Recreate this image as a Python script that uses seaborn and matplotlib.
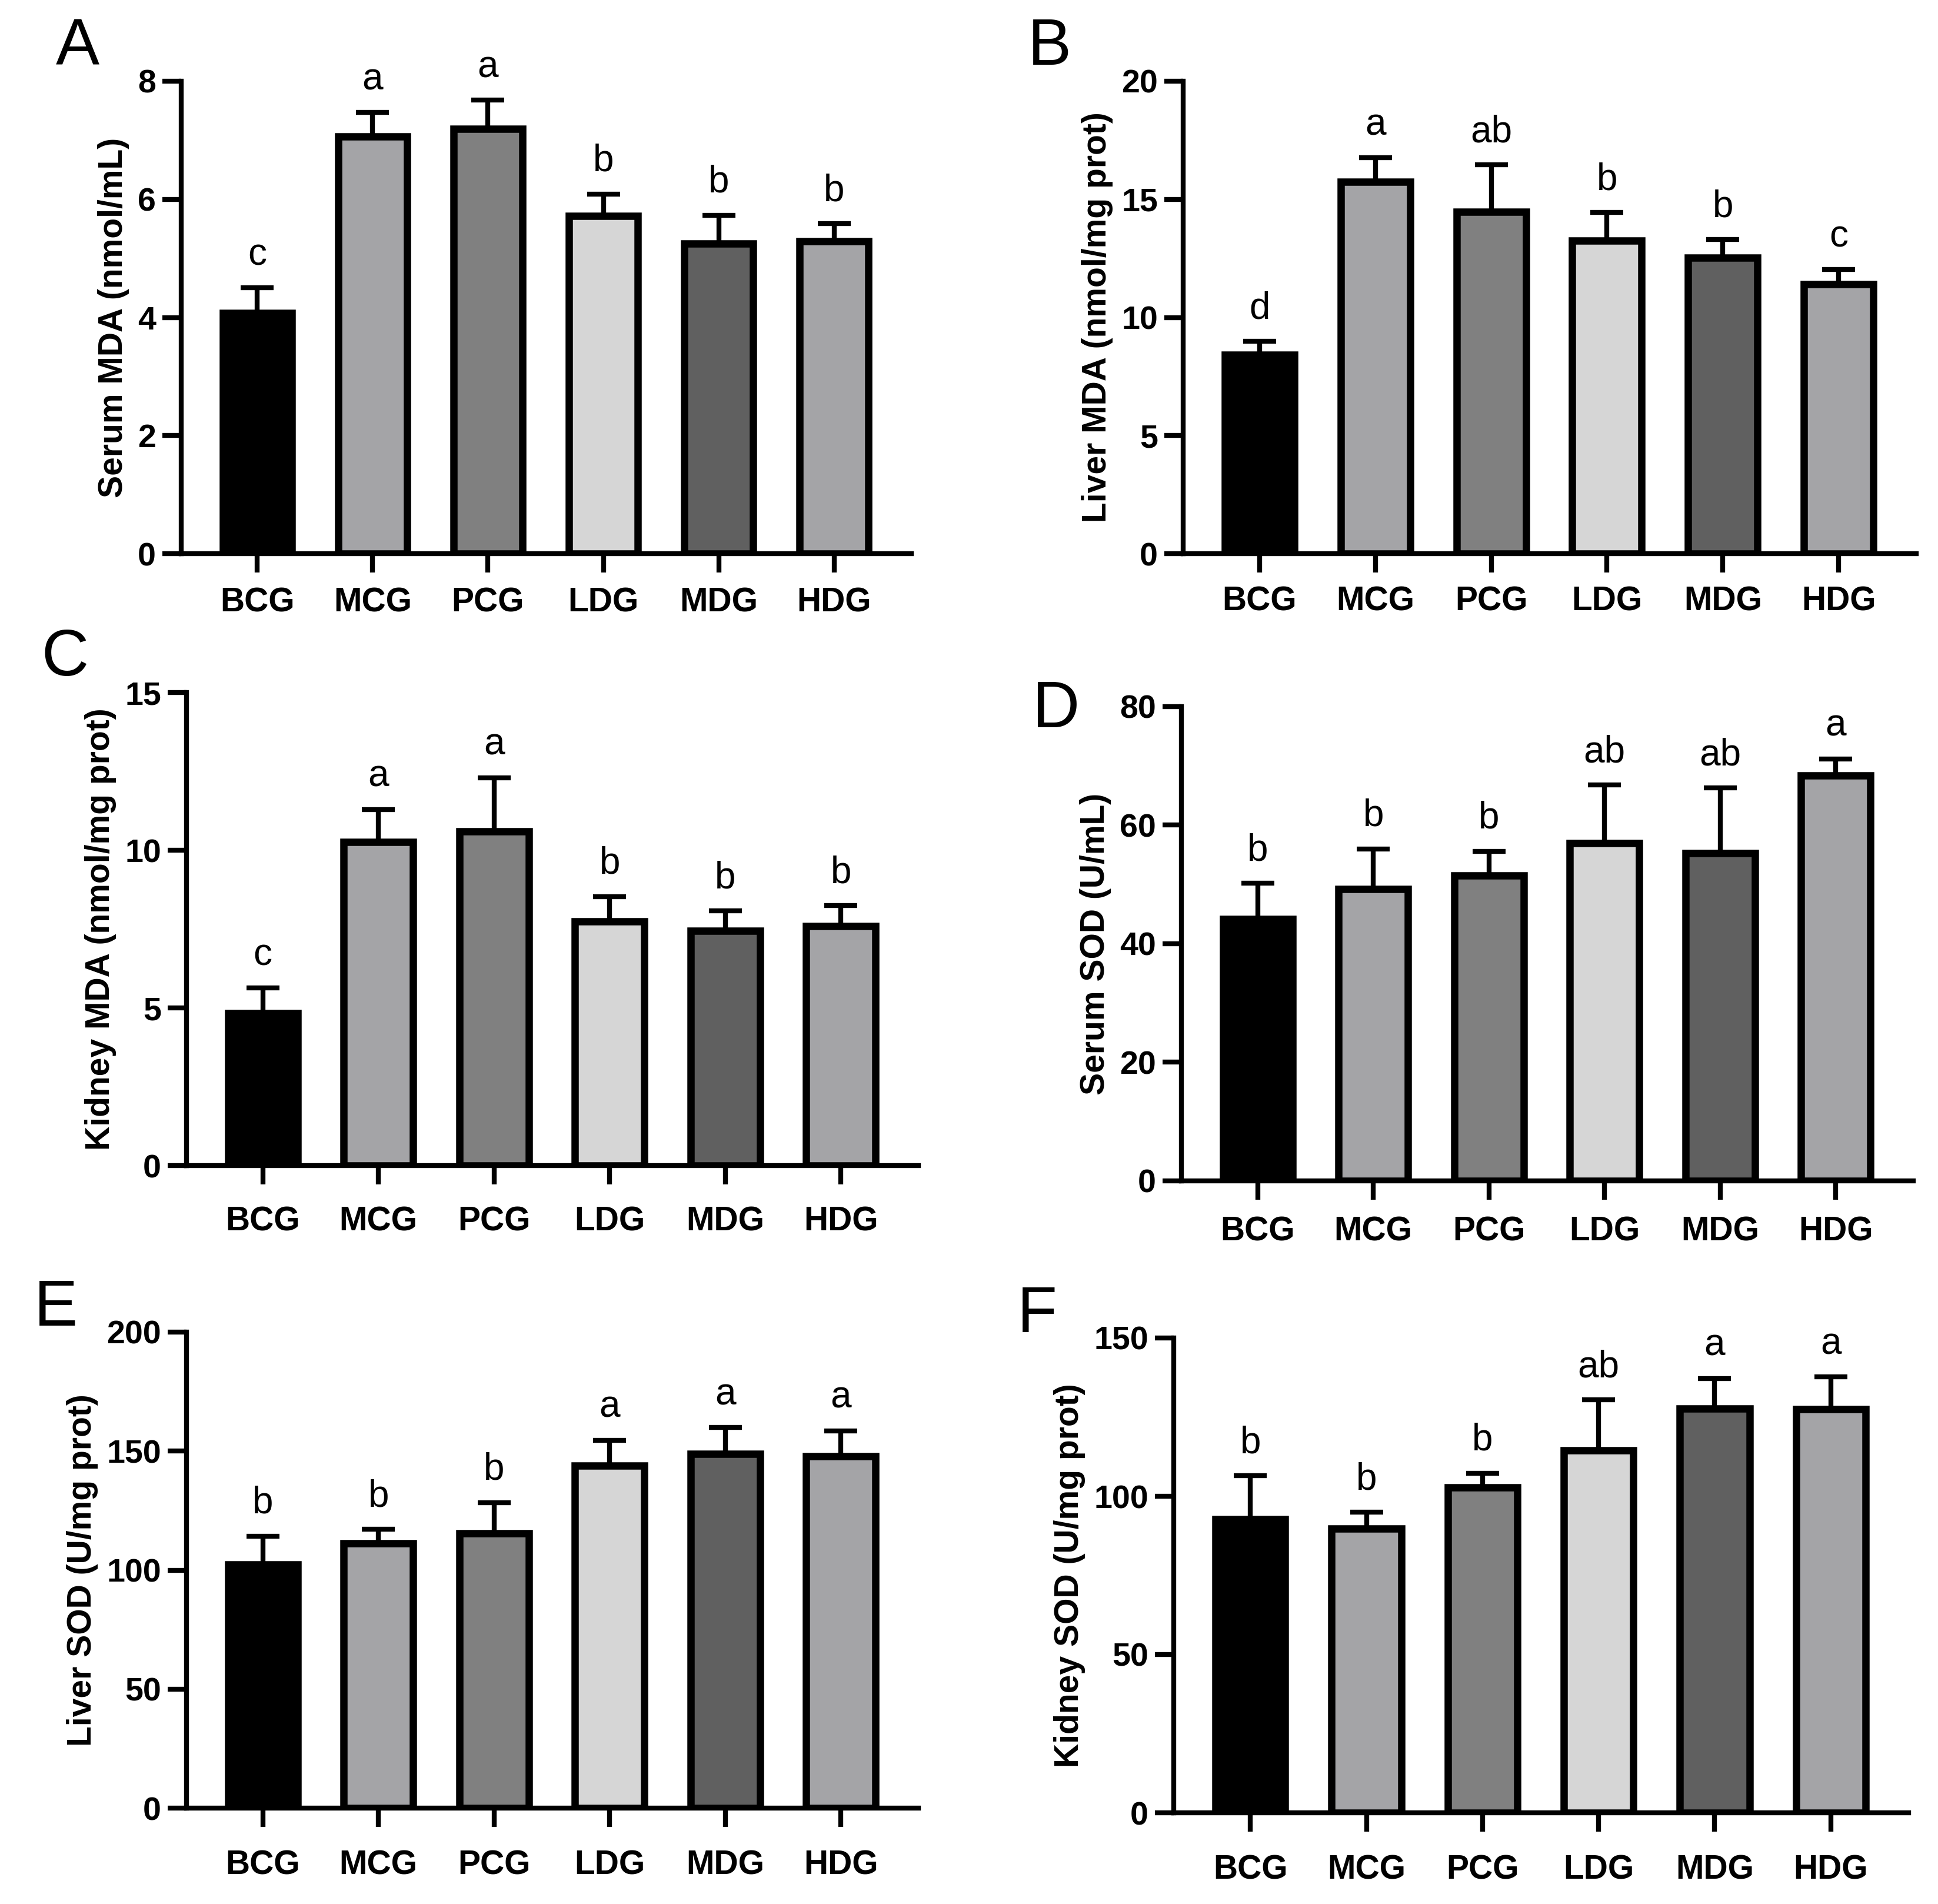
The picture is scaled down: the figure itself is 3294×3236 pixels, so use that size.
import matplotlib
matplotlib.use("Agg")
import matplotlib.pyplot as plt
import seaborn as sns
import numpy as np

groups = ["BCG", "MCG", "PCG", "LDG", "MDG", "HDG"]
bar_colors = ["#000000", "#A3A4A8", "#808080", "#D6D6D6", "#606060", "#A3A4A8"]

serum_mda_mean = [4.07, 7.06, 7.19, 5.72, 5.25, 5.29]
serum_mda_sd = [0.43, 0.41, 0.49, 0.37, 0.48, 0.30]
serum_mda_sig = ["c", "a", "a", "b", "b", "b"]

liver_mda_mean = [8.42, 15.75, 14.47, 13.25, 12.54, 11.40]
liver_mda_sd = [0.56, 1.00, 1.99, 1.19, 0.76, 0.62]
liver_mda_sig = ["d", "a", "ab", "b", "b", "c"]

kidney_mda_mean = [4.84, 10.26, 10.60, 7.74, 7.45, 7.60]
kidney_mda_sd = [0.79, 1.03, 1.70, 0.79, 0.62, 0.64]
kidney_mda_sig = ["c", "a", "a", "b", "b", "b"]

serum_sod_mean = [44.2, 49.2, 51.5, 57.0, 55.3, 68.4]
serum_sod_sd = [6.0, 6.8, 4.1, 9.8, 11.0, 2.8]
serum_sod_sig = ["b", "b", "b", "ab", "ab", "a"]

liver_sod_mean = [102.3, 111.3, 115.4, 144.0, 148.9, 147.8]
liver_sod_sd = [12.0, 5.8, 13.0, 10.6, 11.0, 10.7]
liver_sod_sig = ["b", "b", "b", "a", "a", "a"]

kidney_sod_mean = [92.8, 89.7, 102.8, 114.5, 127.7, 127.5]
kidney_sod_sd = [13.7, 5.3, 4.5, 15.9, 9.5, 10.2]
kidney_sod_sig = ["b", "b", "b", "ab", "a", "a"]

sns.set_style("ticks", {"axes.edgecolor": "black", "text.color": "black",
                        "xtick.color": "black", "ytick.color": "black",
                        "axes.labelcolor": "black"})
plt.rcParams["font.family"] = ["Liberation Sans", "DejaVu Sans"]

W, H = 3294, 3236
fig = plt.figure(figsize=(W / 200, H / 200), dpi=200)

# (panel letter, ylabel, mean, sd, sig, ymax, ystep, axis box px: x0, xr, ytop, y0, letter pos, xtick pad)
panels = [
    ("A", "Serum MDA (nmol/mL)", serum_mda_mean, serum_mda_sd, serum_mda_sig, 8, 2,
     (308, 1549, 138, 941), (132, 81), 9),
    ("B", "Liver MDA (nmol/mg prot)", liver_mda_mean, liver_mda_sd, liver_mda_sig, 20, 5,
     (2011, 3257, 138, 941), (1784, 81), 8),
    ("C", "Kidney MDA (nmol/mg prot)", kidney_mda_mean, kidney_mda_sd, kidney_mda_sig, 15, 5,
     (317, 1561, 1177, 1981), (111, 1119), 13),
    ("D", "Serum SOD (U/mL)", serum_sod_mean, serum_sod_sd, serum_sod_sig, 80, 20,
     (2008, 3252, 1201, 2007), (1795, 1207), 10),
    ("E", "Liver SOD (U/mg prot)", liver_sod_mean, liver_sod_sd, liver_sod_sig, 200, 50,
     (317, 1561, 2264, 3073), (95, 2224), 14),
    ("F", "Kidney SOD (U/mg prot)", kidney_sod_mean, kidney_sod_sd, kidney_sod_sig, 150, 50,
     (1995, 3244, 2274, 3081), (1763, 2235), 14),
]

for letter, ylabel, mean, sd, sig, ymax, ystep, box, lpos, xpad in panels:
    x0, xr, ytop, y0 = box
    ax = fig.add_axes([x0 / W, 1 - y0 / H, (xr - x0) / W, (y0 - ytop) / H])
    sns.barplot(x=groups, y=mean, hue=groups, palette=bar_colors, legend=False,
                edgecolor="black", linewidth=4.5, width=0.6, ax=ax, zorder=2)
    xs = np.arange(len(groups))
    ax.errorbar(xs, mean, yerr=[np.zeros(len(sd)), sd], fmt="none", ecolor="black",
                elinewidth=3, capsize=10, capthick=3, zorder=3)
    tops = np.array(mean) + np.array(sd)
    for xi, t, s in zip(xs, tops, sig):
        ax.annotate(s, xy=(xi, t), xytext=(0, 14), textcoords="offset points",
                    ha="center", va="baseline", fontsize=23)
    ax.set_xlim(-0.66, 5.67)
    ax.set_ylim(0, ymax)
    ax.set_yticks(np.arange(0, ymax + ystep / 2, ystep))
    ax.set_ylabel(ylabel, fontsize=20.5, fontweight="bold", labelpad=5)
    ax.set_xlabel("")
    sns.despine(ax=ax)
    for side in ["left", "bottom"]:
        ax.spines[side].set_linewidth(3)
    ax.tick_params(axis="both", direction="out", length=11.5, width=3)
    ax.tick_params(axis="y", labelsize=20, pad=4)
    ax.tick_params(axis="x", labelsize=20.5, pad=xpad)
    for lab in ax.get_xticklabels() + ax.get_yticklabels():
        lab.set_fontweight("bold")
    fig.text(lpos[0] / W, 1 - lpos[1] / H, letter, fontsize=40,
             ha="center", va="center")

fig.savefig("out.png", dpi=200, facecolor="white")
